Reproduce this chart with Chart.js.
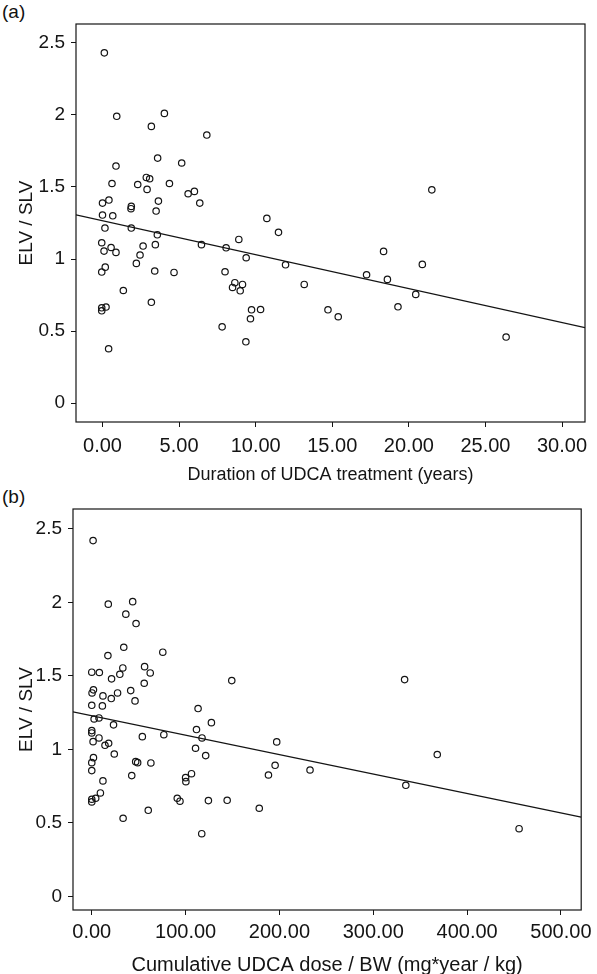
<!DOCTYPE html>
<html>
<head>
<meta charset="utf-8">
<script src="https://cdn.jsdelivr.net/npm/chart.js@4.4.1/dist/chart.umd.min.js"></script>
<style>
  html, body { margin: 0; padding: 0; background: #fff; }
  body { width: 597px; height: 974px; position: relative; overflow: hidden; font-family: "Liberation Sans", Arial, sans-serif; }
  .wrap { position: absolute; left: 0; width: 597px; height: 487px; }
  .panel-label { position: absolute; left: 2px; font-size: 19px; line-height: 22px; color: #111; font-family: "Liberation Sans", Arial, sans-serif; }
</style>
</head>
<body>
<div class="panel-label" style="top:1px;">(a)</div>
<div class="panel-label" style="top:486px;">(b)</div>
<div class="wrap" style="top:0;"><canvas id="chartA" width="597" height="487"></canvas></div>
<div class="wrap" style="top:487px;"><canvas id="chartB" width="597" height="487"></canvas></div>
<script>
// ---------- Data ----------
// Panel (a): Duration of UDCA treatment (years) vs ELV / SLV
const durationYears = [0.12,0.93,4.04,3.19,6.81,0.88,3.6,5.17,0.62,2.3,2.86,3.08,2.91,4.37,5.59,6.0,6.35,0.0,0.42,1.88,1.86,3.65,3.5,0.0,0.67,10.73,0.16,1.88,3.58,-0.05,0.1,0.56,0.88,2.65,2.45,3.45,2.21,6.46,8.07,8.9,9.38,-0.05,0.18,3.41,4.67,8.0,1.36,8.64,8.49,9.14,8.99,3.19,-0.05,-0.05,0.23,9.73,10.32,9.66,7.81,9.36,0.4,21.5,11.49,11.95,13.17,14.72,15.39,17.24,18.35,18.6,19.29,20.45,20.88,26.35];
const ratioA = [2.43,1.99,2.01,1.92,1.86,1.645,1.70,1.666,1.524,1.517,1.566,1.557,1.483,1.524,1.453,1.469,1.388,1.388,1.409,1.365,1.349,1.402,1.333,1.305,1.30,1.282,1.215,1.215,1.168,1.113,1.055,1.08,1.046,1.09,1.028,1.10,0.97,1.10,1.078,1.136,1.009,0.91,0.944,0.917,0.907,0.912,0.782,0.836,0.803,0.824,0.78,0.70,0.662,0.641,0.667,0.648,0.65,0.586,0.53,0.426,0.378,1.48,1.185,0.96,0.824,0.648,0.60,0.891,1.053,0.859,0.669,0.755,0.963,0.459];
// Regression line endpoints in (a), read at the plot edges
const fitAx = [-1.73, 31.5];
const fitAy = [1.307, 0.524];

// Panel (b): Cumulative UDCA dose / BW (mg*year / kg) vs ELV / SLV
const cumDose = [1.4,17.6,43.6,36.3,47.2,34.1,17.2,75.7,0,8.1,33.1,29.9,56.3,62.3,21.1,55.9,149.2,1.8,0.3,11.9,20.8,27.5,41.5,46.1,0,11.3,113.3,2.5,7.7,23.2,0,0,7.7,1.4,14.1,18,53.9,76.8,111.6,127.5,117.5,110.6,121.4,24,0,1.8,0,46.8,48.9,63,42.6,11.9,106.3,100,100.3,9.2,4.2,0,0,91.1,94,124.3,144.3,60.2,33.4,117.2,333.4,197.1,368.2,195.4,188.3,232.6,334.7,178.5,455.4];
const ratioB = [2.42,1.988,2.005,1.92,1.856,1.695,1.638,1.661,1.525,1.523,1.554,1.511,1.563,1.52,1.48,1.45,1.468,1.405,1.384,1.364,1.346,1.384,1.40,1.33,1.30,1.296,1.278,1.207,1.214,1.167,1.128,1.112,1.078,1.053,1.028,1.042,1.087,1.10,1.135,1.182,1.078,1.008,0.958,0.969,0.91,0.944,0.856,0.917,0.91,0.908,0.822,0.786,0.835,0.808,0.781,0.704,0.668,0.661,0.643,0.668,0.648,0.652,0.654,0.586,0.532,0.427,1.475,1.051,0.965,0.892,0.826,0.86,0.756,0.60,0.461];
const fitBx = [-20, 521.6];
const fitBy = [1.255, 0.54];

// Tick values / labels
const yTickValues = [0, 0.5, 1, 1.5, 2, 2.5];
const yTickLabels = ['0', '0.5', '1', '1.5', '2', '2.5'];
const xTickValuesA = [0, 5, 10, 15, 20, 25, 30];
const xTickLabelsA = ['0.00', '5.00', '10.00', '15.00', '20.00', '25.00', '30.00'];
const xTickValuesB = [0, 100, 200, 300, 400, 500];
const xTickLabelsB = ['0.00', '100.00', '200.00', '300.00', '400.00', '500.00'];

const yTitle = 'ELV / SLV';
const xTitleA = 'Duration of UDCA treatment (years)';
const xTitleB = 'Cumulative UDCA dose / BW (mg*year / kg)';

// ---------- Chart construction ----------
const INK = '#141414';
const FONT = '"Liberation Sans", Arial, Helvetica, sans-serif';

const boxPlugin = {
  id: 'box',
  afterDatasetsDraw(chart) {
    const a = chart.chartArea, ctx = chart.ctx;
    ctx.save();
    ctx.strokeStyle = INK;
    ctx.lineWidth = 1.2;
    ctx.strokeRect(a.left, a.top, a.right - a.left, a.bottom - a.top);
    ctx.restore();
  }
};

function makeChart(id, xs, ys, fx, fy, cfg) {
  const pts = xs.map((x, i) => ({ x: x, y: ys[i] }));
  const line = fx.map((x, i) => ({ x: x, y: fy[i] }));
  return new Chart(document.getElementById(id), {
    type: 'scatter',
    data: {
      datasets: [
        {
          data: pts,
          pointStyle: 'circle',
          pointRadius: 3.2,
          pointBorderWidth: 1.2,
          pointBorderColor: INK,
          pointBackgroundColor: 'rgba(0,0,0,0)',
          showLine: false
        },
        {
          data: line,
          type: 'line',
          showLine: true,
          borderColor: INK,
          borderWidth: 1.3,
          pointRadius: 0,
          fill: false,
          tension: 0
        }
      ]
    },
    options: {
      responsive: false,
      animation: false,
      devicePixelRatio: 1,
      layout: { padding: { top: cfg.padTop, right: 12, bottom: 0, left: 0 } },
      plugins: { legend: { display: false }, tooltip: { enabled: false } },
      scales: {
        x: {
          type: 'linear',
          min: cfg.xmin, max: cfg.xmax,
          afterBuildTicks: s => { s.ticks = cfg.xTicks.map(v => ({ value: v })); },
          afterFit: s => { s.height = cfg.xAxisH; },
          grid: { display: true, drawOnChartArea: false, drawTicks: true, tickLength: 5, color: INK, lineWidth: 1 },
          border: { display: false },
          ticks: {
            autoSkip: false, maxRotation: 0, padding: cfg.xTickPad, color: INK,
            font: { family: FONT, size: 20 },
            callback: v => { const i = cfg.xTicks.indexOf(v); return i >= 0 ? cfg.xLabels[i] : ''; }
          },
          title: {
            display: true, text: cfg.xTitle, color: INK,
            font: { family: FONT, size: cfg.xTitleSize, lineHeight: cfg.xTitleLH },
            padding: { top: 2, bottom: cfg.titlePadB }
          }
        },
        y: {
          type: 'linear',
          min: cfg.ymin, max: cfg.ymax,
          afterBuildTicks: s => { s.ticks = yTickValues.map(v => ({ value: v })); },
          afterFit: s => { s.width = cfg.yAxisW; },
          grid: { display: true, drawOnChartArea: false, drawTicks: true, tickLength: 5, color: INK, lineWidth: 1 },
          border: { display: false },
          ticks: {
            autoSkip: false, padding: 6, color: INK,
            font: { family: FONT, size: 19 },
            callback: v => { const i = yTickValues.indexOf(v); return i >= 0 ? yTickLabels[i] : ''; }
          },
          title: {
            display: true, text: yTitle, color: INK,
            font: { family: FONT, size: 19, lineHeight: 1.0 },
            padding: { top: 17, bottom: 4 }
          }
        }
      }
    },
    plugins: [boxPlugin]
  });
}

makeChart('chartA', durationYears, ratioA, fitAx, fitAy, {
  padTop: 24, xmin: -1.73, xmax: 31.5, ymin: -0.13, ymax: 2.63,
  xTicks: xTickValuesA, xLabels: xTickLabelsA, xTitle: xTitleA,
  xAxisH: 65, yAxisW: 76, xTickPad: 7, xTitleSize: 18, xTitleLH: 1.2, titlePadB: 1
});
makeChart('chartB', cumDose, ratioB, fitBx, fitBy, {
  padTop: 22, xmin: -20, xmax: 521.6, ymin: -0.092, ymax: 2.635,
  xTicks: xTickValuesB, xLabels: xTickLabelsB, xTitle: xTitleB,
  xAxisH: 64, yAxisW: 73, xTickPad: 5, xTitleSize: 20, xTitleLH: 0.85, titlePadB: 0
});
</script>
</body>
</html>
